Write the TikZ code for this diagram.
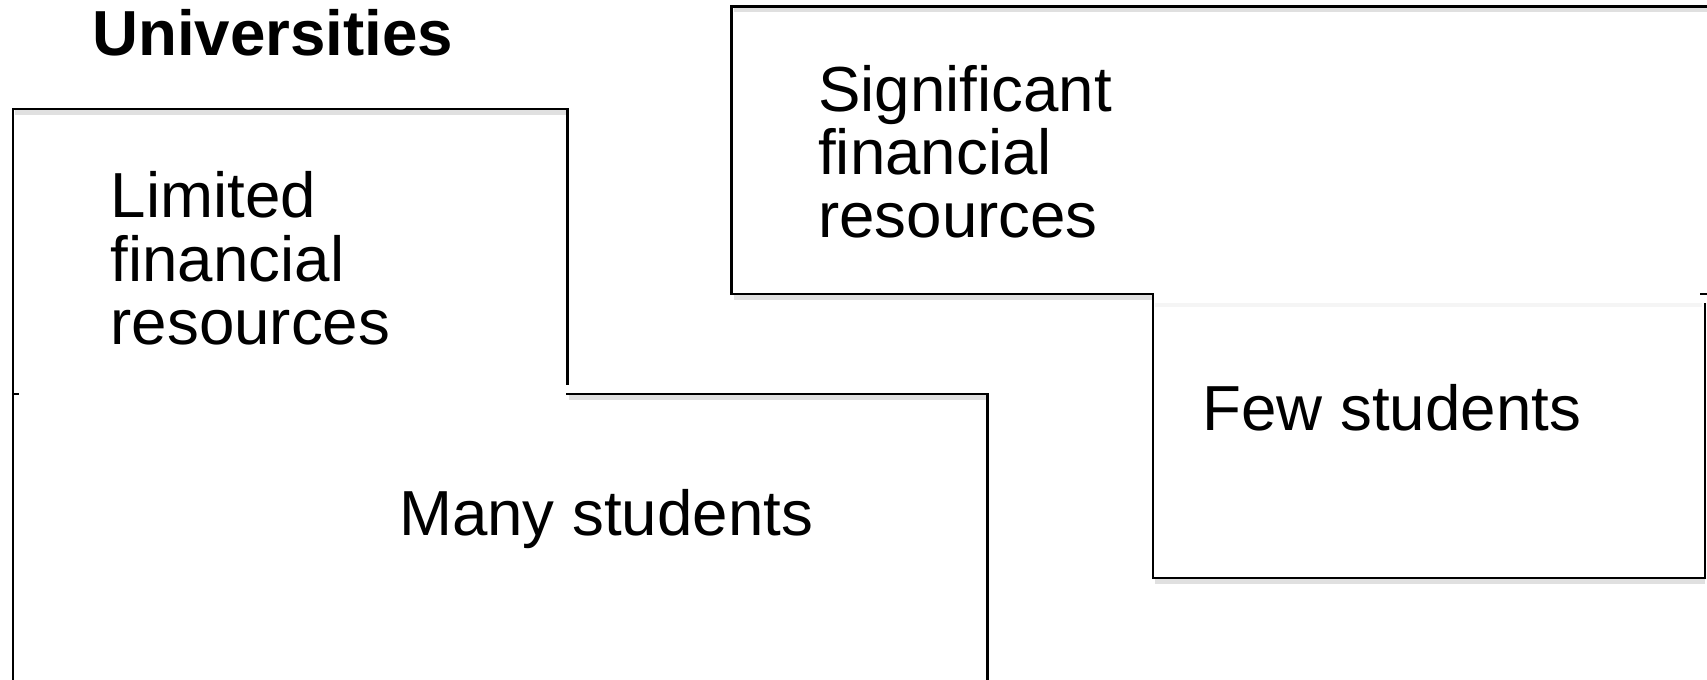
\documentclass[tikz,border=0pt]{standalone}
\usepackage{fontspec}
\setmainfont{Liberation Sans}
\begin{document}
\begin{tikzpicture}[x=0.010887cm,y=-0.010887cm,
  edge/.style={draw=black,line width=0.75pt,line cap=rect},
  shade/.style={draw=black!12,line width=1.4pt},
  lbl/.style={inner sep=0pt,anchor=base west,font=\fontsize{18.1pt}{18pt}\selectfont}]
\clip (0,0) rectangle (1568,624);
\fill[white] (0,0) rectangle (1568,624);
% soft shadows
\draw[shade] (14,103) -- (521,103);
\draw[shade] (523,365) -- (907,365);
\draw[shade] (674,273) -- (1059,273);
\draw[shade] (1061,534) -- (1566,534);
\draw[shade] (674,9) -- (1568,9);
\draw[draw=black!4,line width=1pt] (1061,280) -- (1563,280);
% box 1 (Limited financial resources)
\draw[edge] (12,624) -- (12,100) -- (521,100) -- (521,352);
% box 2 (Many students)
\draw[edge] (12,362) -- (16,362);
\draw[edge] (521,362) -- (907,362) -- (907,624);
% box 3 (Significant financial resources)
\draw[edge] (1568,6) -- (672,6) -- (672,270) -- (1059,270);
% box 4 (Few students)
\draw[edge] (1563,270) -- (1568,270);
\draw[edge] (1059,270) -- (1059,531) -- (1566,531) -- (1566,280);
% texts
\node[lbl] (title) at (84,51) {\bfseries Universities};
\node[lbl] (lim) at (101,200) {\vtop{\hbox{Limited}\hbox{financial}\hbox{resources}}};
\node[lbl] (sig) at (751,102) {\vtop{\hbox{Significant}\hbox{financial}\hbox{resources}}};
\node[lbl] (many) at (366,492) {Many students};
\node[lbl] (few) at (1104,395) {Few students};
\end{tikzpicture}
\end{document}
